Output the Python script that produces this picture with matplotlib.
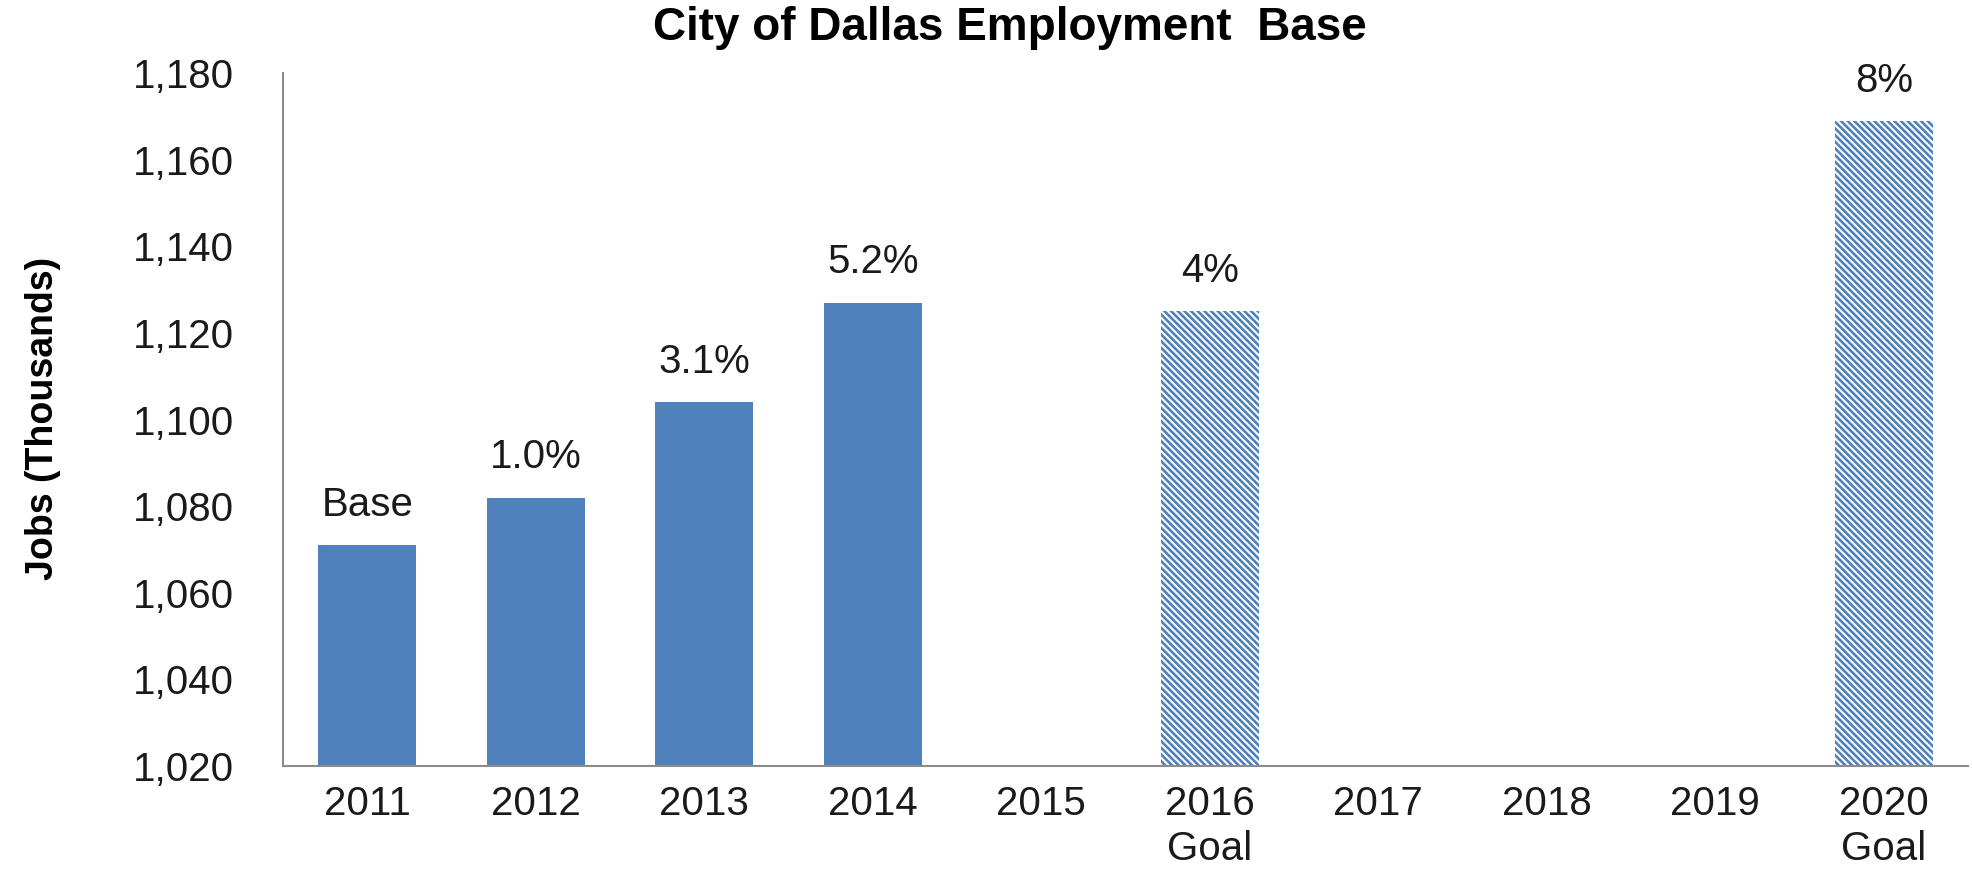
import matplotlib.pyplot as plt
import numpy as np
from matplotlib.ticker import FuncFormatter

plt.rcParams['font.family'] = ['Liberation Sans', 'DejaVu Sans']
plt.rcParams['hatch.linewidth'] = 1.9

# Categories on the x axis
categories = ["2011", "2012", "2013", "2014", "2015", "2016\nGoal",
              "2017", "2018", "2019", "2020\nGoal"]

# Actual jobs (thousands)
actual_years = ["2011", "2012", "2013", "2014"]
actual_jobs = [1071, 1082, 1104, 1127]
actual_labels = ["Base", "1.0%", "3.1%", "5.2%"]

# Goals (thousands)
goal_years = ["2016\nGoal", "2020\nGoal"]
goal_jobs = [1125, 1169]
goal_labels = ["4%", "8%"]

y_ticks = list(range(1020, 1181, 20))

blue = "#4F81BD"

fig = plt.figure(figsize=(19.72, 8.72), dpi=100)
ax = fig.add_axes([0.1435, 0.1216, 0.8545, 0.7944])

x = np.arange(len(categories))
actual_x = [categories.index(c) for c in actual_years]
goal_x = [categories.index(c) for c in goal_years]

bar_width = 0.58
ax.bar(actual_x, np.array(actual_jobs) - 1020, bar_width, bottom=1020, color=blue, linewidth=0)
ax.bar(goal_x, np.array(goal_jobs) - 1020, bar_width, bottom=1020, color="white",
       edgecolor=blue, hatch="\\" * 5, linewidth=0)

# Labels above the bars
for xi, yi, lab in zip(actual_x + goal_x, actual_jobs + goal_jobs, actual_labels + goal_labels):
    ax.annotate(lab, (xi, yi), xytext=(0, 29), textcoords="offset points",
                ha="center", va="center", fontsize=29, color="#1a1a1a")

ax.set_xlim(-0.5, len(categories) - 0.5)
ax.set_ylim(1020, 1180)
ax.set_yticks(y_ticks)
ax.yaxis.set_major_formatter(FuncFormatter(lambda v, p: f"{int(v):,}"))
ax.set_xticks(x)
ax.set_xticklabels(categories, linespacing=1.22)

ax.tick_params(axis="both", length=0, labelsize=29, labelcolor="#1a1a1a")
ax.tick_params(axis="x", pad=14)
ax.tick_params(axis="y", pad=35)

for side in ["top", "right"]:
    ax.spines[side].set_visible(False)
for side in ["left", "bottom"]:
    ax.spines[side].set_color("#8c8c8c")
    ax.spines[side].set_linewidth(1.5)

fig.text(0.512, 0.968, "City of Dallas Employment  Base", ha="center", va="center",
         fontsize=33, fontweight="bold")
fig.text(0.022, 0.52, "Jobs (Thousands)", ha="center", va="center", rotation=90,
         fontsize=27, fontweight="bold")

fig.savefig("out.png", dpi=100)
